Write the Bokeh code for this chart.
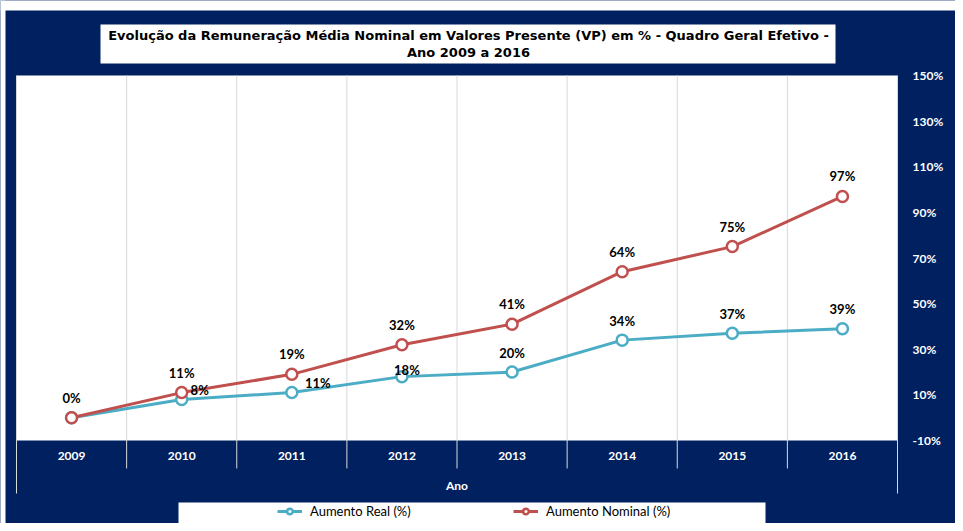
from bokeh.plotting import figure
from bokeh.models import Range1d, BoxAnnotation, Label, Legend, LegendItem
from bokeh.core.properties import value
from bokeh.embed import file_html
from bokeh.resources import INLINE

# ---------------- data ----------------
years = ["2009", "2010", "2011", "2012", "2013", "2014", "2015", "2016"]
aumento_real = [0, 8, 11, 18, 20, 34, 37, 39]
aumento_nominal = [0, 11, 19, 32, 41, 64, 75, 97]
y_ticks = [-10, 10, 30, 50, 70, 90, 110, 130, 150]
y_tick_labels = ["-10%", "10%", "30%", "50%", "70%", "90%", "110%", "130%", "150%"]
title_line1 = "Evolução da Remuneração Média Nominal em Valores Presente (VP) em % - Quadro Geral Efetivo -"
title_line2 = "Ano 2009 a 2016"
x_title = "Ano"
series_names = ["Aumento Real (%)", "Aumento Nominal (%)"]

# ---------------- style ----------------
NAVY = "#002060"
TEAL = "#4BACC6"
RED = "#C0504D"
GRID = "#D9D9D9"
FONT = "Lato"

W, H = 955, 523
N = len(years)
xs = [i + 0.5 for i in range(N)]
Y_MIN, Y_MAX = -10, 150

# layout: plot area spans pixels x 16..897, y 75 (150%) .. 440 (-10%)
PX_X = (897 - 16) / N
PX_Y = (440 - 75) / (Y_MAX - Y_MIN)
def dx(px):
    return (px - 16) / PX_X
def dy(py):
    return Y_MIN + (440 - py) / PX_Y

p = figure(width=W, height=H, title=None,
           x_range=Range1d(dx(0), dx(W)), y_range=Range1d(dy(H), dy(0)),
           output_backend="svg", toolbar_location=None,
           x_axis_location=None, y_axis_location=None,
           min_border=0, min_border_left=0, min_border_right=0,
           min_border_top=0, min_border_bottom=0,
           background_fill_color=NAVY, border_fill_color=NAVY, outline_line_color=None)
p.grid.visible = False

# outer white strips (edge of the original picture)
p.add_layout(BoxAnnotation(bottom=dy(10), fill_color="white", fill_alpha=1,
                           line_color=None, level="underlay"))
p.add_layout(BoxAnnotation(right=dx(5), fill_color="white", fill_alpha=1,
                           line_color=None, level="underlay"))

# white plot area
p.add_layout(BoxAnnotation(left=0, right=N, bottom=Y_MIN, top=Y_MAX, fill_color="white",
                           fill_alpha=1, line_color=None, level="underlay"))

# category separators
seps = list(range(N + 1))
sep_bottom = [dy(493) if (s == 0 or s == N) else dy(468) for s in seps]
p.segment(x0=seps, x1=seps, y0=sep_bottom, y1=[Y_MAX] * len(seps),
          line_color=GRID, line_width=1)

# series
r_line = p.line(xs, aumento_real, line_color=TEAL, line_width=3)
r_pts = p.scatter(xs, aumento_real, marker="circle", size=11, line_color=TEAL,
                  line_width=2.5, fill_color="white")
n_line = p.line(xs, aumento_nominal, line_color=RED, line_width=3)
n_pts = p.scatter(xs, aumento_nominal, marker="circle", size=11, line_color=RED,
                  line_width=2.5, fill_color="white")

# data labels (the 2009 real label coincides with the nominal one)
real_dx = [0, 18, 26, 5, 0, 0, 0, 0]
real_dy = [-20, -9, -10, -7, -19, -19, -19, -20]
p.text(x=xs[1:], y=aumento_real[1:], text=[f"{v}%" for v in aumento_real[1:]],
       x_offset=real_dx[1:], y_offset=real_dy[1:], text_align="center", text_baseline="middle",
       text_font=value(FONT), text_font_style="bold", text_font_size="13px",
       text_color="black")
p.text(x=xs, y=aumento_nominal, text=[f"{v}%" for v in aumento_nominal],
       x_offset=0, y_offset=-20, text_align="center", text_baseline="middle",
       text_font=value(FONT), text_font_style="bold", text_font_size="13px",
       text_color="black")

# category labels and axis title
p.text(x=xs, y=[Y_MIN] * N, text=years, y_offset=15, text_align="center",
       text_baseline="middle", text_font=value(FONT), text_font_style="bold",
       text_font_size="12px", text_color="white")
p.text(x=[N / 2], y=[Y_MIN], text=[x_title], y_offset=45, text_align="center",
       text_baseline="middle", text_font=value(FONT), text_font_style="bold",
       text_font_size="12px", text_color="white")

# value axis labels on the right, placed through the y scale
p.text(x=[N] * len(y_ticks), y=y_ticks, text=y_tick_labels, x_offset=15,
       text_align="left", text_baseline="middle", text_font=value(FONT),
       text_font_style="bold", text_font_size="12px", text_color="white")

# title box
p.add_layout(BoxAnnotation(left=dx(100), right=dx(835), top=dy(24), bottom=dy(63),
                           fill_color="white", fill_alpha=1, line_color=None,
                           level="underlay"))
p.add_layout(Label(x=dx(468), y=dy(35), text=title_line1, text_align="center",
                   text_baseline="middle", text_font="DejaVu Sans", text_font_style="bold",
                   text_font_size="13px", text_color="black"))
p.add_layout(Label(x=dx(468), y=dy(52), text=title_line2, text_align="center",
                   text_baseline="middle", text_font="DejaVu Sans", text_font_style="bold",
                   text_font_size="13px", text_color="black"))

# legend box + legend
p.add_layout(BoxAnnotation(left=dx(178), right=dx(765), top=dy(502), bottom=dy(523),
                           fill_color="white", fill_alpha=1, line_color=None,
                           level="underlay"))
legend = Legend(items=[LegendItem(label=series_names[0], renderers=[r_line, r_pts]),
                       LegendItem(label=series_names[1], renderers=[n_line, n_pts])],
                orientation="horizontal", location=(277, 4),
                background_fill_alpha=0, border_line_color=None, padding=0, spacing=0,
                margin=0, glyph_width=25, glyph_height=14, label_standoff=8,
                label_width=203, label_text_font=FONT, label_text_font_size="13px",
                label_text_color="black")
p.add_layout(legend)

open("out.html", "w").write(file_html(p, INLINE))
